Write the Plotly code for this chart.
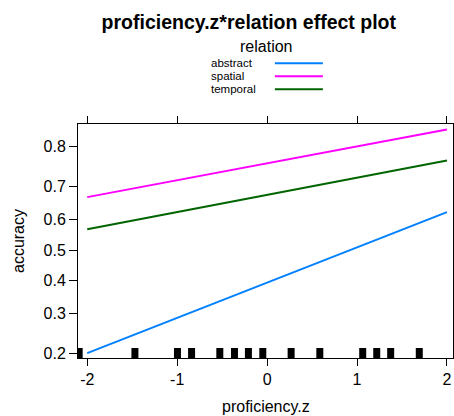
import numpy as np
import plotly.graph_objects as go

# ---- data ----
relations = ["abstract", "spatial", "temporal"]
colors = ["#0080ff", "#ff00ff", "#006400"]
x_ends = [-2, 2]
acc_abstract = [0.201, 0.624]
acc_spatial = [0.670, 0.834]
acc_temporal = [0.569, 0.768]
rug_x = [-2.09, -1.47, -0.997, -0.84, -0.526, -0.363, -0.208, -0.048,
         0.267, 0.586, 1.063, 1.219, 1.374, 1.692]
y_ticks = [0.2, 0.3, 0.4, 0.5, 0.6, 0.7, 0.8]
x_ticks = [-2, -1, 0, 1, 2]


def logit(p):
    p = np.asarray(p, dtype=float)
    return np.log(p / (1 - p))


font = "Liberation Sans, Arial, Helvetica, sans-serif"
ylo, yhi = -1.446, 1.687

fig = go.Figure()
for name, col, vals in zip(relations, colors, [acc_abstract, acc_spatial, acc_temporal]):
    fig.add_trace(go.Scatter(x=x_ends, y=logit(vals), mode="lines",
                             line=dict(color=col, width=2), name=name,
                             showlegend=False, hoverinfo="skip"))

# rug
rx, ry = [], []
for v in rug_x:
    rx += [v, v, None]
    ry += [ylo, ylo + 0.134, None]
fig.add_trace(go.Scatter(x=rx, y=ry, mode="lines", line=dict(color="black", width=7),
                         showlegend=False, hoverinfo="skip"))

# legend (manual, lattice-style)
leg_y = [1.2598, 1.2043, 1.1487]
annotations = [
    dict(text="relation", x=0.501, y=1.333, xref="paper", yref="paper",
         showarrow=False, font=dict(size=16, color="black", family=font),
         xanchor="center", yanchor="middle"),
    dict(text="proficiency.z", x=0.501, y=-0.208, xref="paper", yref="paper",
         showarrow=False, font=dict(size=16, color="black", family=font),
         xanchor="center", yanchor="middle"),
    dict(text="accuracy", x=-0.16, y=0.5, xref="paper", yref="paper", textangle=-90,
         showarrow=False, font=dict(size=16, color="black", family=font),
         xanchor="center", yanchor="middle"),
]
shapes = []
for name, col, yy in zip(relations, colors, leg_y):
    annotations.append(dict(text=name, x=0.352, y=yy, xref="paper", yref="paper",
                            showarrow=False, font=dict(size=11.5, color="black", family=font),
                            xanchor="left", yanchor="middle", borderpad=0))
    shapes.append(dict(type="line", xref="paper", yref="paper", x0=0.525, x1=0.653,
                       y0=yy, y1=yy, line=dict(color=col, width=2)))

fig.update_layout(
    width=454, height=416,
    margin=dict(l=78, r=1, t=124, b=58),
    paper_bgcolor="white", plot_bgcolor="white",
    title=dict(text="<b>proficiency.z*relation effect plot</b>", x=0.548, xref="container",
               y=0.946, yref="container", xanchor="center", yanchor="middle",
               font=dict(size=19.5, color="black", family=font)),
    annotations=annotations, shapes=shapes,
    font=dict(family=font, color="black"),
)
fig.update_xaxes(range=[-2.103, 2.067], tickvals=x_ticks, ticktext=[str(t) for t in x_ticks],
                 showgrid=False, zeroline=False, showline=True, linecolor="black", linewidth=1,
                 mirror="ticks", ticks="outside", ticklen=7, tickcolor="black", tickwidth=1,
                 tickfont=dict(size=16, color="black", family=font))
fig.update_yaxes(range=[ylo, yhi], tickvals=list(logit(y_ticks)), ticktext=[f"{t:.1f}" for t in y_ticks],
                 showgrid=False, zeroline=False, showline=True, linecolor="black", linewidth=1,
                 mirror=True, ticks="outside", ticklen=8, tickcolor="black", tickwidth=1,
                 tickfont=dict(size=16, color="black", family=font))

fig.write_html("out.html")
